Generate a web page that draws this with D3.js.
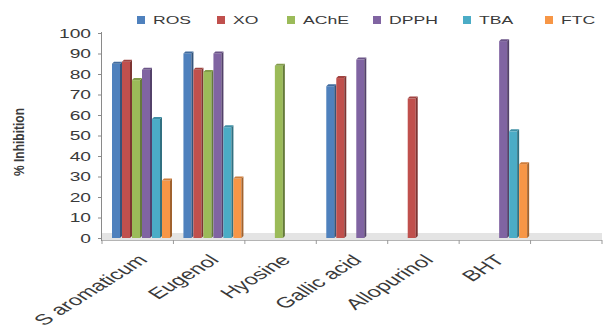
<!DOCTYPE html>
<html>
<head>
<meta charset="utf-8">
<script src="https://cdn.jsdelivr.net/npm/d3@7"></script>
<style>
  html, body { margin: 0; padding: 0; background: #fff; }
  svg { display: block; }
  text { font-family: "Liberation Sans", Arial, sans-serif; fill: #3a3a3a; }
</style>
</head>
<body>
<svg id="chart" width="603" height="328"></svg>
<script>
// Samples tested along the x axis (a trailing empty slot follows BHT)
const categories = ["S aromaticum", "Eugenol", "Hyosine", "Gallic acid", "Allopurinol", "BHT"];
const slotCount = 7;

// Assays (legend order) and their colours
const seriesNames = ["ROS", "XO", "AChE", "DPPH", "TBA", "FTC"];
const seriesColors = ["#4F81BD", "#C0504D", "#9BBB59", "#8064A2", "#4BACC6", "#F79646"];

// % inhibition per assay, one entry per sample (null = not tested)
const ROS  = [86, 91, null, 75, null, null];
const XO   = [87, 83, null, 79, 69, null];
const AChE = [78, 82, 85, null, null, null];
const DPPH = [83, 91, null, 88, null, 97];
const TBA  = [59, 55, null, null, null, 53];
const FTC  = [29, 30, null, null, null, 37];
const seriesValues = [ROS, XO, AChE, DPPH, TBA, FTC];

const yTicks = [0, 10, 20, 30, 40, 50, 60, 70, 80, 90, 100];

const SX = 1.6; // horizontal text stretch

const svg = d3.select("#chart");

const x = d3.scaleBand().domain(d3.range(slotCount)).range([102, 602]).paddingInner(0).paddingOuter(0);
const y = d3.scaleLinear().domain([0, 100]).range([238, 33]);

const bandW = x.bandwidth();
const barW = 10;
const groupOffset = 10;

// floor of the plot
svg.append("rect")
  .attr("x", x.range()[0]).attr("y", y(0) - 5)
  .attr("width", x.range()[1] - x.range()[0]).attr("height", 7)
  .attr("fill", "#e4e4e4");
svg.append("line")
  .attr("x1", x.range()[0]).attr("x2", x.range()[1])
  .attr("y1", y(0) + 2.5).attr("y2", y(0) + 2.5)
  .attr("stroke", "#b4b4b4").attr("stroke-width", 1);

// category tick marks along the floor edge
svg.append("g").selectAll("line")
  .data(d3.range(slotCount + 1))
  .join("line")
  .attr("x1", i => x.range()[0] + i * bandW)
  .attr("x2", i => x.range()[0] + i * bandW)
  .attr("y1", y(0) + 2).attr("y2", y(0) + 6)
  .attr("stroke", "#9a9a9a");

// y axis
const yAxis = d3.axisLeft(y).tickValues(yTicks).tickSize(4).tickFormat("");
const yg = svg.append("g").attr("transform", "translate(102,0)").call(yAxis);
yg.select(".domain").attr("stroke", "#8a8a8a").attr("d", `M-0.5,${y(100) - 1}V${y(0) + 3}`);
yg.selectAll(".tick line").attr("stroke", "#8a8a8a");

// y tick labels
svg.append("g").selectAll("text")
  .data(yTicks)
  .join("text")
  .attr("transform", d => `translate(91,${y(d) + 4.5}) scale(${SX},1)`)
  .attr("text-anchor", "end")
  .attr("font-size", 12)
  .text(d => d);

// y axis title
svg.append("text")
  .attr("transform", `translate(24,142) scale(${SX * 0.75},1) rotate(-90)`)
  .attr("text-anchor", "middle")
  .attr("font-size", 12)
  .attr("font-weight", "bold")
  .text("% Inhibition");

// bars with a shallow 3D side and top
const depth = 2;
const bars = svg.append("g");
seriesValues.forEach((vals, si) => {
  const base = d3.color(seriesColors[si]);
  const dark = base.darker(1.2).formatHex();
  const mid = base.darker(0.5).formatHex();
  vals.forEach((v, ci) => {
    if (v == null) return;
    const x0 = x(ci) + groupOffset + si * barW;
    const yt = y(v) + depth;
    const yb = y(0);
    const w = barW - depth;
    const g = bars.append("g");
    g.append("rect").attr("x", x0).attr("y", yt).attr("width", w).attr("height", yb - yt)
      .attr("fill", seriesColors[si]);
    g.append("path")
      .attr("d", `M${x0 + w},${yt}L${x0 + w + depth},${yt - depth}L${x0 + w + depth},${yb - depth}L${x0 + w},${yb}Z`)
      .attr("fill", dark);
    g.append("path")
      .attr("d", `M${x0},${yt}L${x0 + depth},${yt - depth}L${x0 + w + depth},${yt - depth}L${x0 + w},${yt}Z`)
      .attr("fill", mid);
  });
});

// x category labels, slanted
svg.append("g").selectAll("text")
  .data(categories)
  .join("text")
  .attr("transform", (d, i) => `translate(${x(i) + bandW / 2 + 11},${y(0) + 23}) scale(${SX},1) rotate(-45)`)
  .attr("text-anchor", "end")
  .attr("font-size", 15)
  .text(d => d);

// legend
const legendX = [137, 217, 287, 373, 463, 545];
const lg = svg.append("g");
seriesNames.forEach((name, i) => {
  lg.append("rect")
    .attr("x", legendX[i]).attr("y", 16).attr("width", 8).attr("height", 8)
    .attr("fill", seriesColors[i]);
  lg.append("text")
    .attr("transform", `translate(${legendX[i] + 16},24) scale(${SX},1)`)
    .attr("font-size", 11)
    .text(name);
});
</script>
</body>
</html>
